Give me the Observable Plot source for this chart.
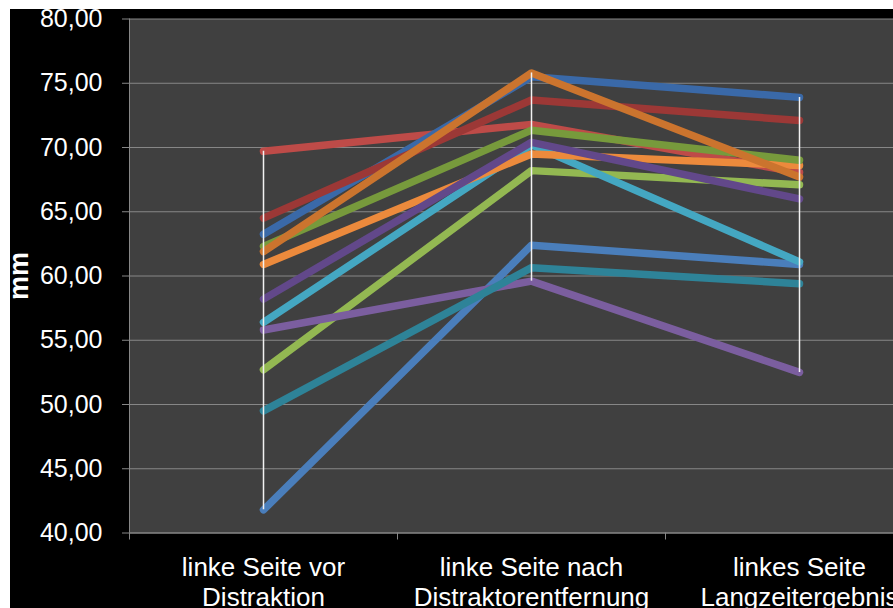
<!DOCTYPE html>
<html>
<head>
<meta charset="utf-8">
<script src="https://cdn.jsdelivr.net/npm/d3@7"></script>
<script src="https://cdn.jsdelivr.net/npm/@observablehq/plot@0.6"></script>
<style>
  html, body { margin: 0; padding: 0; background: #ffffff; overflow: hidden; }
  #chart { position: absolute; left: 10px; top: 9px; width: 940px; height: 599px; background: #000000; overflow: hidden; }
  #chart svg { font-family: "Liberation Sans", Arial, sans-serif; }
</style>
</head>
<body>
<div id="chart"></div>
<script>
// Messzeitpunkte (x-Achse)
const categories = [
  "linke Seite vor\nDistraktion",
  "linke Seite nach\nDistraktorentfernung",
  "linkes Seite\nLangzeitergebnis"
];

// Messwerte in mm, ein Eintrag je Patient (Reihenfolge der Datenreihen)
const vorDistraktion       = [41.8, 69.7, 52.7, 55.8, 56.4, 60.9, 63.25, 64.5, 62.3, 58.2, 49.5, 61.9];
const nachDistraktor       = [62.4, 71.8, 68.2, 59.6, 70.2, 69.5, 75.5, 73.7, 71.35, 70.4, 60.65, 75.8];
const langzeitErgebnis     = [60.9, 68.05, 67.1, 52.5, 61.1, 68.6, 73.9, 72.1, 69.0, 66.0, 59.4, 67.7];

const seriesNames  = ["P1", "P2", "P3", "P4", "P5", "P6", "P7", "P8", "P9", "P10", "P11", "P12"];
const seriesColors = ["#4A7EBB", "#BE4B48", "#93B852", "#7B5E9F", "#44A7C2", "#EC8A3C",
                      "#3A69A8", "#9C3836", "#779A3C", "#62488A", "#2E8398", "#CB742E"];

// y-Achse
const yTicks = [40, 45, 50, 55, 60, 65, 70, 75, 80];
const yLabel = "mm";

const columns = [vorDistraktion, nachDistraktor, langzeitErgebnis];

// Lange Tabelle: eine Zeile je Patient und Zeitpunkt
const rows = seriesNames.flatMap((name, s) =>
  columns.map((col, c) => ({ series: name, pos: c + 0.5, value: col[s] }))
);

// Spannweite (min–max) je Zeitpunkt
const ranges = columns.map((col, c) => ({ pos: c + 0.5, lo: d3.min(col), hi: d3.max(col) }));

const fmt = d => d.toLocaleString("de-DE", { minimumFractionDigits: 2, maximumFractionDigits: 2 });

const chart = Plot.plot({
  width: 940,
  height: 599,
  marginLeft: 119,
  marginRight: 17,
  marginTop: 9.5,
  marginBottom: 75.5,
  style: { background: "transparent", color: "#ffffff", overflow: "visible" },
  x: { domain: [0, columns.length], axis: null },
  y: { domain: [40, 80], axis: null },
  color: { domain: seriesNames, range: seriesColors },
  marks: [
    Plot.frame({ fill: "#404040", stroke: null }),
    Plot.gridY(yTicks, { stroke: "#878787", strokeOpacity: 1, strokeWidth: 1 }),
    Plot.ruleX([0], { stroke: "#878787", strokeWidth: 1 }),
    Plot.ruleY([40], { stroke: "#878787", strokeWidth: 1 }),
    Plot.axisY({
      ticks: yTicks, tickFormat: fmt, tickSize: 7, tickPadding: 20,
      fontSize: 25, stroke: "#878787", fill: "#ffffff", label: null
    }),
    Plot.axisX({
      ticks: d3.range(0, columns.length + 1), tickFormat: () => "",
      tickSize: 7, stroke: "#878787", label: null
    }),
    Plot.axisX({
      ticks: categories.map((_, i) => i + 0.5), tickFormat: d => categories[Math.floor(d)],
      tickSize: 0, tickPadding: 22.3, fontSize: 26, lineHeight: 1.13,
      fill: "#ffffff", label: null
    }),
    Plot.line(rows, {
      x: "pos", y: "value", z: "series", stroke: "series",
      strokeWidth: 7.5, strokeLinecap: "round", strokeLinejoin: "round"
    }),
    Plot.ruleX(ranges, { x: "pos", y1: "lo", y2: "hi", stroke: "#f2f2f2", strokeWidth: 1.5 }),
    Plot.text([yLabel], {
      frameAnchor: "left", dx: -102, rotate: -90, textAnchor: "middle",
      lineAnchor: "bottom", fontSize: 27, fontWeight: "bold", fill: "#ffffff"
    })
  ]
});

document.getElementById("chart").append(chart);
</script>
</body>
</html>
